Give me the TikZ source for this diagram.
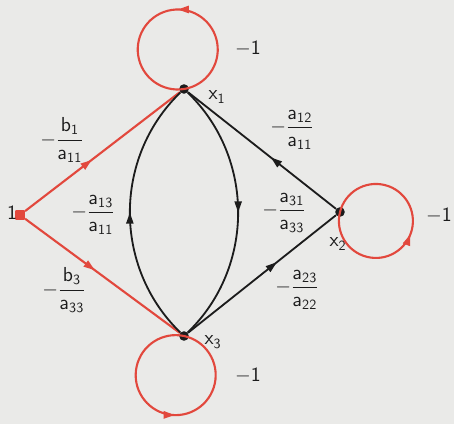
\documentclass[tikz,border=0pt]{standalone}
\usepackage{amsmath}
\usepackage{tikz}
\usetikzlibrary{arrows.meta,decorations.markings}
\definecolor{paper}{HTML}{EAEAE8}
\definecolor{signal}{HTML}{E2483D}
\definecolor{ink}{HTML}{1C1C1C}
% gain label: -num_sub / den_sub in sans letters
\newcommand{\gain}[4]{$-\dfrac{\mathsf{#1}_{\mathsf{#2}}}{\mathsf{#3}_{\mathsf{#4}}}$}

\begin{document}
\begin{tikzpicture}[
  x=0.025cm, y=0.025cm,
  font=\Large\sffamily,
  dot/.style={circle,fill=ink,inner sep=0pt,minimum size=2.4mm},
  src/.style={rectangle,rounded corners=0.5pt,fill=signal,inner sep=0pt,minimum size=2.4mm},
  lbl/.style={inner sep=1pt,text=ink},
  edge/.style={line width=1.3pt,color=ink,postaction={decorate},
    decoration={markings,mark=at position #1 with {\arrow{Triangle[length=2.8mm,width=1.8mm]}}}},
  edge/.default=.5,
  redge/.style={edge=#1,color=signal,line width=1.5pt},
  redge/.default=.5
]
% paper and frame
\fill[paper] (0,0) rectangle (454,424);
\useasboundingbox (0,0) rectangle (454,424);

% nodes
\node[src] (u) at (20,209) {};
\node[dot] (x1) at (184,335) {};
\node[dot] (x2) at (340,212) {};
\node[dot] (x3) at (184,88) {};

% node labels
\node[lbl] (lu) at (12,211) {1};
\node[lbl] (lx1) at (217,327) {x$_{\mathsf{1}}$};
\node[lbl] (lx2) at (338,180) {x$_{\mathsf{2}}$};
\node[lbl] (lx3) at (213,82) {x$_{\mathsf{3}}$};

% input branches
\draw[redge=.43] (u) -- (x1);
\draw[redge=.45] (u) -- (x3);

% self loops
\draw[redge=.475] (x1) arc[start angle=-81,end angle=279,radius=40];
\draw[redge=.48] (x2) arc[start angle=166,end angle=526,radius=37];
\draw[redge=.53] (x3) arc[start angle=78,end angle=438,radius=40];

% coupling branches
\draw[edge=.44] (x2) -- (x1);
\draw[edge=.6] (x3) -- (x2);
\draw[edge] (x3) to[bend left=46] (x1);
\draw[edge] (x1) to[bend left=46] (x3);

% gains
\node[lbl] (g1) at (62,284) {\gain{b}{1}{a}{11}};
\node[lbl] (g3) at (64,134) {\gain{b}{3}{a}{33}};
\node[lbl] (g13) at (93,209) {\gain{a}{13}{a}{11}};
\node[lbl] (g31) at (284,211) {\gain{a}{31}{a}{33}};
\node[lbl] (g12) at (292,294) {\gain{a}{12}{a}{11}};
\node[lbl] (g23) at (297,134) {\gain{a}{23}{a}{22}};
\node[lbl] (l1) at (248,376) {$-$1};
\node[lbl] (l2) at (439,209) {$-$1};
\node[lbl] (l3) at (248,49) {$-$1};
\end{tikzpicture}
\end{document}
